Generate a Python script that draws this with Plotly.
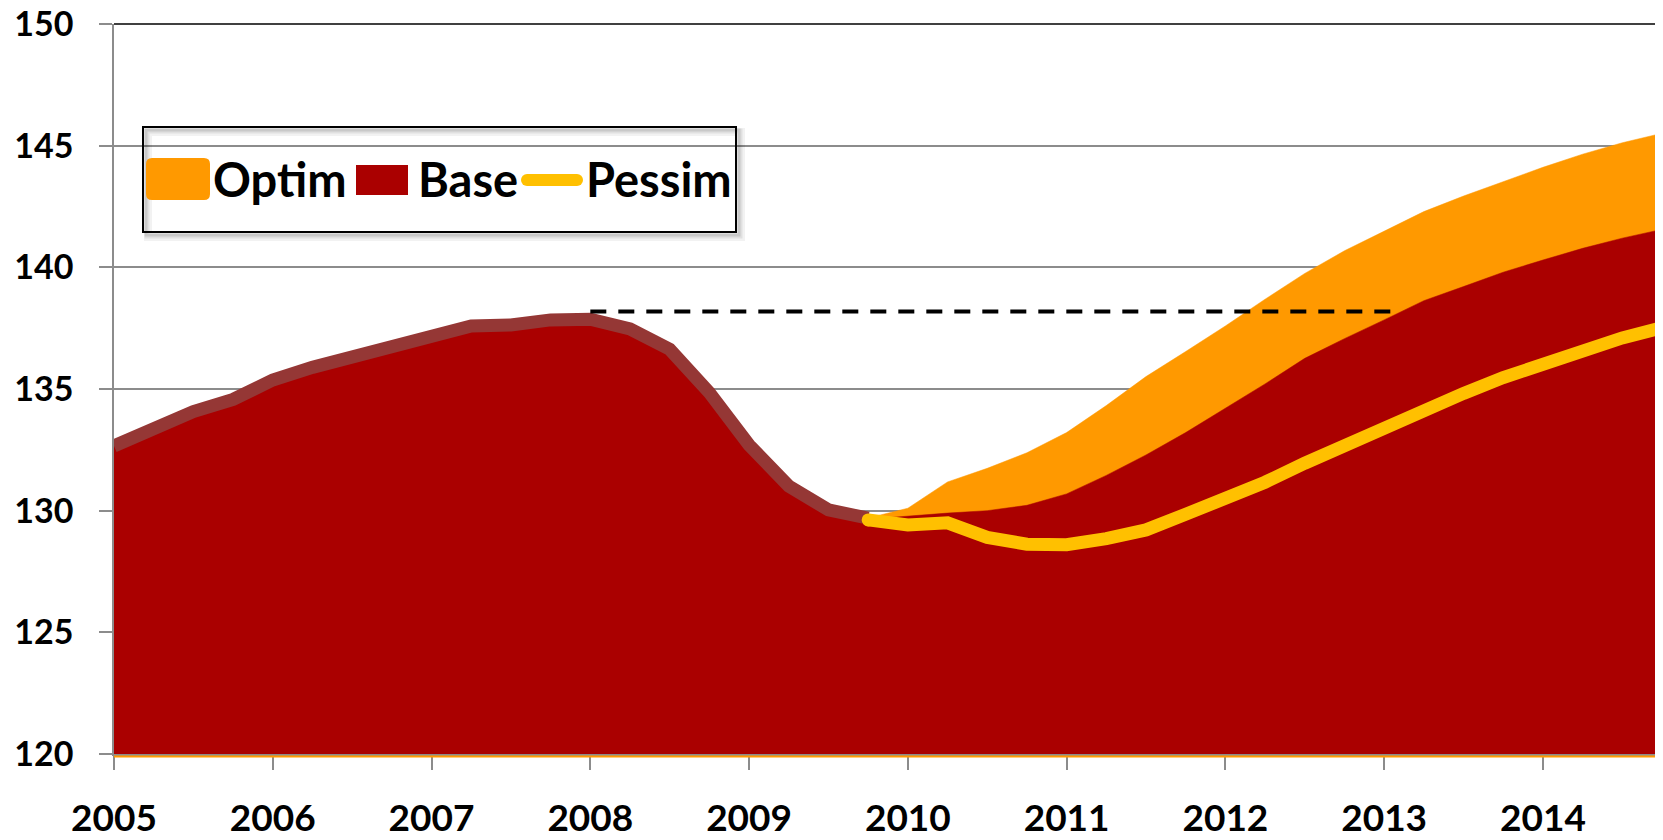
import plotly.graph_objects as go

# ---------------- data ----------------
quarters = [
    "2005Q1", "2005Q2", "2005Q3", "2005Q4", "2006Q1", "2006Q2", "2006Q3", "2006Q4",
    "2007Q1", "2007Q2", "2007Q3", "2007Q4", "2008Q1", "2008Q2", "2008Q3", "2008Q4",
    "2009Q1", "2009Q2", "2009Q3", "2009Q4", "2010Q1", "2010Q2", "2010Q3", "2010Q4",
    "2011Q1", "2011Q2", "2011Q3", "2011Q4", "2012Q1", "2012Q2", "2012Q3", "2012Q4",
    "2013Q1", "2013Q2", "2013Q3", "2013Q4", "2014Q1", "2014Q2", "2014Q3", "2014Q4",
]
year_ticks = ["2005Q1", "2006Q1", "2007Q1", "2008Q1", "2009Q1",
              "2010Q1", "2011Q1", "2012Q1", "2013Q1", "2014Q1"]
year_labels = ["2005", "2006", "2007", "2008", "2009",
               "2010", "2011", "2012", "2013", "2014"]

# actual history (2005Q1 - 2009Q4)
actual = [132.66, 133.37, 134.07, 134.57, 135.37, 135.89, 136.30, 136.66,
          137.18, 137.59, 137.63, 137.84, 137.87, 137.47, 136.63, 134.85,
          132.70, 131.01, 130.03, 129.69]

# base scenario forecast (2009Q4 - 2014Q4)
base_forecast = [129.65, 129.78, 129.90, 130.00, 130.22, 130.69, 131.45, 132.29,
                 133.21, 134.21, 135.21, 136.26, 137.07, 137.84, 138.63, 139.21,
                 139.80, 140.30, 140.78, 141.20, 141.56]

optim = [129.70, 130.10, 131.18, 131.74, 132.38, 133.21, 134.32, 135.51,
         136.54, 137.59, 138.69, 139.75, 140.68, 141.47, 142.29, 142.93,
         143.52, 144.11, 144.65, 145.12, 145.51]

pessim = [129.62, 129.41, 129.50, 128.90, 128.62, 128.60, 128.85, 129.21,
          129.85, 130.44, 131.17, 131.95, 132.70, 133.43, 134.17, 134.82,
          135.47, 136.06, 136.56, 137.10, 137.52]

peak_level = 138.18
peak_start = 12      # 2008Q1 (category index)
peak_end = 32.4      # just past 2013Q1

legend_names = ["Optim", "Base", "Pessim"]

# ---------------- styling ----------------
ORANGE = "#FF9900"
RED = "#AA0000"
BROWN = "#953735"
YELLOW = "#FFC000"
GRID = "#8C8C8C"
FONT = "Lato"

# the page body has an 8px default margin, so the figure is 8px smaller
OFF = 8
W, H = 1663 - OFF, 840 - OFF
ML, MR, MT, MB = 114 - OFF, 1, 24 - OFF, 86
PW, PH = W - ML - MR, H - MT - MB
PLOT_LEFT, PLOT_BOTTOM = 114, 754   # page pixel coords of the plot corner


def px(x):
    return (x - PLOT_LEFT) / PW


def py(y):
    return (PLOT_BOTTOM - y) / PH


forecast_q = quarters[19:]
base = actual[:19] + base_forecast

fig = go.Figure()

fig.add_trace(go.Scatter(x=forecast_q, y=optim, mode="lines", fill="tozeroy",
                         fillcolor=ORANGE, line=dict(color=ORANGE, width=0.5),
                         name=legend_names[0], showlegend=False))
fig.add_trace(go.Scatter(x=quarters, y=base, mode="lines", fill="tozeroy",
                         fillcolor=RED, line=dict(color=RED, width=0.5),
                         name=legend_names[1], showlegend=False))
fig.add_trace(go.Scatter(x=quarters[:20], y=actual, mode="lines",
                         line=dict(color=BROWN, width=13),
                         name="Actual", showlegend=False))
fig.add_trace(go.Scatter(x=forecast_q, y=pessim, mode="lines",
                         line=dict(color=YELLOW, width=13),
                         name=legend_names[2], showlegend=False))

shapes = []
# dashed peak line
shapes.append(dict(type="line", xref="x", yref="y", x0=peak_start, x1=peak_end,
                   y0=peak_level, y1=peak_level,
                   line=dict(color="black", width=4, dash="16px,12px")))
# start cap of pessim line
shapes.append(dict(type="circle", xref="x", yref="y", xsizemode="pixel", ysizemode="pixel",
                   xanchor=19, yanchor=pessim[0], x0=-6.5, x1=6.5, y0=-6.5, y1=6.5,
                   fillcolor=YELLOW, line=dict(width=0)))
# orange border at the bottom of the plot
shapes.append(dict(type="line", xref="paper", yref="paper", x0=0, x1=1,
                   y0=py(756.5), y1=py(756.5), line=dict(color=ORANGE, width=2)))
# black top and right border
shapes.append(dict(type="line", xref="paper", yref="paper", x0=0, x1=1, y0=1, y1=1,
                   line=dict(color="black", width=1.5)))
shapes.append(dict(type="line", xref="paper", yref="paper", x0=1, x1=1, y0=0, y1=1,
                   line=dict(color="black", width=1.5)))

# ---- custom legend ----
bx0, bx1, by0, by1 = 143, 736, 127, 232
for off, w, a in [(5, 8, 0.05), (4, 5, 0.07), (3, 3, 0.10)]:
    shapes.append(dict(type="rect", xref="paper", yref="paper",
                       x0=px(bx0 + off), x1=px(bx1 + off), y0=py(by0 + off), y1=py(by1 + off),
                       line=dict(color=f"rgba(0,0,0,{a})", width=w)))
shapes.append(dict(type="rect", xref="paper", yref="paper",
                   x0=px(bx0), x1=px(bx1), y0=py(by0), y1=py(by1),
                   line=dict(color="black", width=2)))

# orange rounded square
ox0, ox1, oy0, oy1, r = 146, 210, 158, 200, 6
path = (f"M {px(ox0 + r)} {py(oy0)} L {px(ox1 - r)} {py(oy0)} "
        f"Q {px(ox1)} {py(oy0)} {px(ox1)} {py(oy0 + r)} L {px(ox1)} {py(oy1 - r)} "
        f"Q {px(ox1)} {py(oy1)} {px(ox1 - r)} {py(oy1)} L {px(ox0 + r)} {py(oy1)} "
        f"Q {px(ox0)} {py(oy1)} {px(ox0)} {py(oy1 - r)} L {px(ox0)} {py(oy0 + r)} "
        f"Q {px(ox0)} {py(oy0)} {px(ox0 + r)} {py(oy0)} Z")
shapes.append(dict(type="path", xref="paper", yref="paper", path=path,
                   fillcolor=ORANGE, line=dict(width=0)))
# red square
shapes.append(dict(type="rect", xref="paper", yref="paper",
                   x0=px(356), x1=px(408), y0=py(165), y1=py(195),
                   fillcolor=RED, line=dict(width=0)))
# yellow line with round ends
shapes.append(dict(type="line", xref="paper", yref="paper",
                   x0=px(527), x1=px(577), y0=py(180), y1=py(180),
                   line=dict(color=YELLOW, width=12)))
for cx in (527, 577):
    shapes.append(dict(type="circle", xref="paper", yref="paper",
                       x0=px(cx - 6), x1=px(cx + 6), y0=py(174), y1=py(186),
                       fillcolor=YELLOW, line=dict(width=0)))

annotations = []
for name, lx in zip(legend_names, [211, 416, 584]):
    annotations.append(dict(text=f"<b>{name}</b>", xref="paper", yref="paper",
                            x=px(lx), y=py(179), xanchor="left", yanchor="middle",
                            showarrow=False,
                            font=dict(family=FONT, size=47, color="black")))

fig.update_layout(
    width=W, height=H,
    margin=dict(l=ML, r=MR, t=MT, b=MB),
    paper_bgcolor="white", plot_bgcolor="white",
    showlegend=False,
    shapes=shapes,
    annotations=annotations,
    font=dict(family=FONT, color="black"),
)
fig.update_xaxes(
    type="category", categoryorder="array", categoryarray=quarters,
    range=[0, 39], tickmode="array", tickvals=year_ticks, ticktext=year_labels,
    showgrid=False, showline=True, linecolor=GRID, linewidth=1.5,
    ticks="outside", ticklen=14, tickcolor=GRID, tickwidth=1.5,
    tickfont=dict(family=FONT, size=37, color="black", weight="bold"),
    ticklabelstandoff=17, ticklabeloverflow="allow", automargin=False, zeroline=False,
)
fig.update_yaxes(
    range=[120, 150], tickmode="linear", tick0=120, dtick=5,
    showgrid=True, gridcolor=GRID, gridwidth=1.5,
    showline=True, linecolor=GRID, linewidth=1.5,
    ticks="outside", ticklen=13, tickcolor=GRID, tickwidth=1.5,
    tickfont=dict(family=FONT, size=34, color="black", weight="bold"),
    ticklabelstandoff=19, ticklabeloverflow="allow", automargin=False, zeroline=False,
)

fig.write_html("out.html")
